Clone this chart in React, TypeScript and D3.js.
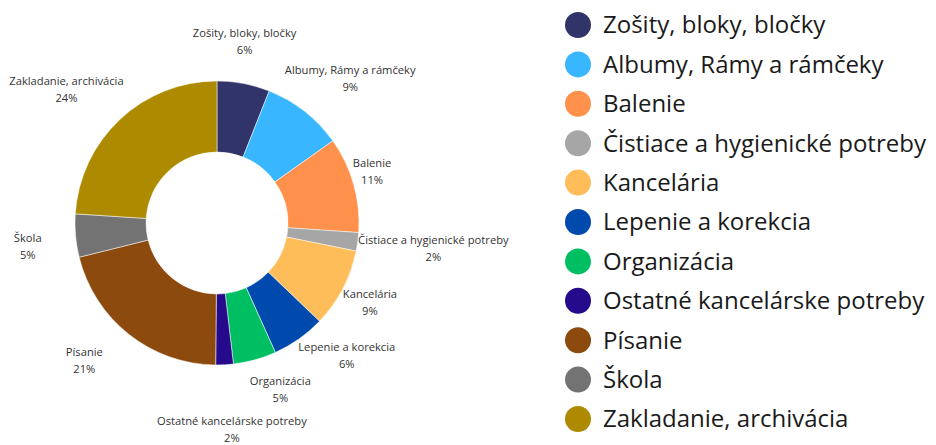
import React, { useEffect, useRef } from "react";
import * as d3 from "d3";

const categories = [
  "Zošity, bloky, bločky",
  "Albumy, Rámy a rámčeky",
  "Balenie",
  "Čistiace a hygienické potreby",
  "Kancelária",
  "Lepenie a korekcia",
  "Organizácia",
  "Ostatné kancelárske potreby",
  "Písanie",
  "Škola",
  "Zakladanie, archivácia",
];
const shares = [6, 9.2, 10.9, 2.1, 9, 6.1, 4.9, 2, 21, 4.9, 24];
const percentLabels = ["6%", "9%", "11%", "2%", "9%", "6%", "5%", "2%", "21%", "5%", "24%"];
const colors = [
  "#313469", "#38b6ff", "#ff914d", "#a6a6a6", "#ffbd59", "#004aad",
  "#00bf63", "#250a8c", "#8c4a0e", "#737373", "#ad8a00",
];
// small hand tweaks so the outside labels sit where the original layout put them
const labelNudge: [number, number][] = [
  [-7, 0], [19, 1], [-23, -2], [33, 0], [-11, -7], [23, -19],
  [14, -12], [5, 21], [-18, -8], [-5, 7], [-24, 1],
];

const width = 936;
const height = 445;
const font = "'Open Sans', Lato, sans-serif";

export default function App() {
  const ref = useRef<SVGSVGElement>(null);

  useEffect(() => {
    const svg = d3.select(ref.current);
    svg.selectAll("*").remove();

    const cx = 217;
    const cy = 223;
    const outer = 142;
    const inner = 71;

    const data = categories.map((name, i) => ({ name, value: shares[i], pct: percentLabels[i], color: colors[i] }));
    const pie = d3.pie<any>().value(d => d.value).sort(null);
    const arcs = pie(data);
    const arc = d3.arc<any>().innerRadius(inner).outerRadius(outer);
    const labelArc = d3.arc<any>().innerRadius(185).outerRadius(185);

    const g = svg.append("g").attr("transform", `translate(${cx},${cy})`);
    g.selectAll("path")
      .data(arcs)
      .enter()
      .append("path")
      .attr("d", arc)
      .attr("fill", d => d.data.color)
      .attr("stroke", "#ffffff")
      .attr("stroke-width", 0.5);

    const labels = g.selectAll("g.lbl")
      .data(arcs)
      .enter()
      .append("g")
      .classed("lbl", true)
      .attr("transform", (d, i) => {
        const [x, y] = labelArc.centroid(d);
        return `translate(${x + labelNudge[i][0]},${y + labelNudge[i][1]})`;
      });
    labels.append("text")
      .attr("text-anchor", "middle")
      .attr("y", -8)
      .attr("dy", "0.35em")
      .attr("font-family", font)
      .attr("font-size", 11.2)
      .attr("fill", "#333333")
      .text(d => d.data.name);
    labels.append("text")
      .attr("text-anchor", "middle")
      .attr("y", 9)
      .attr("dy", "0.35em")
      .attr("font-family", font)
      .attr("font-size", 11.2)
      .attr("fill", "#333333")
      .text(d => d.data.pct);

    // legend
    const ly = d3.scalePoint().domain(categories).range([25, 419]);
    const legend = svg.append("g");
    const items = legend.selectAll("g")
      .data(data)
      .enter()
      .append("g")
      .attr("transform", d => `translate(578,${ly(d.name)})`);
    items.append("circle").attr("r", 13).attr("fill", d => d.color);
    items.append("text")
      .attr("x", 25)
      .attr("dy", "0.35em")
      .attr("font-family", font)
      .attr("font-size", 24)
      .attr("fill", "#1a1a1a")
      .text(d => d.name);
  }, []);

  return (
    <svg
      ref={ref}
      width={width}
      height={height}
      style={{ position: "absolute", left: 0, top: 0, background: "#ffffff" }}
    />
  );
}
